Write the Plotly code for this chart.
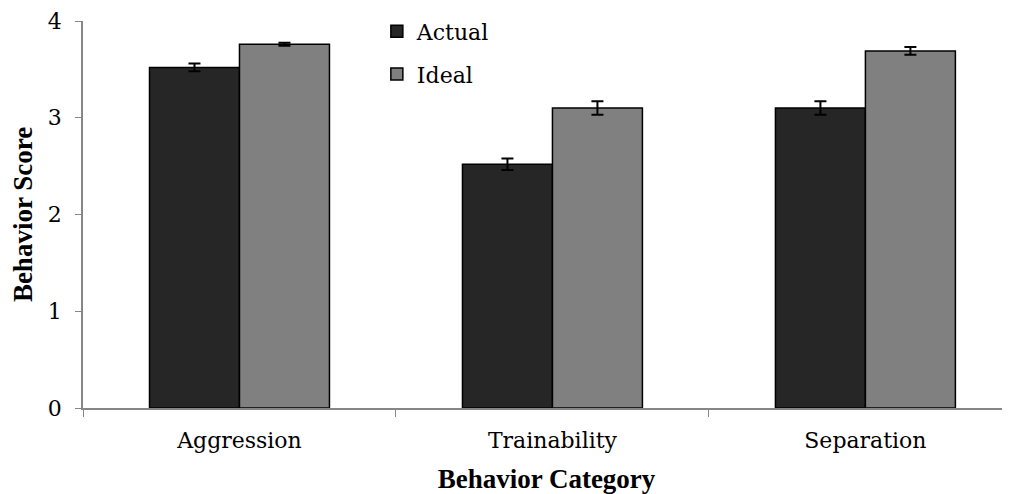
import plotly.graph_objects as go

categories = ["Aggression", "Trainability", "Separation"]
actual = [3.52, 2.52, 3.10]
actual_err = [0.04, 0.06, 0.07]
ideal = [3.76, 3.10, 3.69]
ideal_err = [0.015, 0.07, 0.04]
y_ticks = [0, 1, 2, 3, 4]

tick_font = dict(family="DejaVu Serif", size=22, color="black")
title_font = dict(family="Liberation Serif", size=27, color="black")

fig = go.Figure()
fig.add_trace(go.Bar(
    x=categories, y=actual, name="Actual", legendgroup="a",
    marker=dict(color="#262626", line=dict(color="black", width=1.5)),
    error_y=dict(type="data", array=actual_err, visible=True, color="black", thickness=2, width=6),
))
fig.add_trace(go.Bar(
    x=categories, y=ideal, name="Ideal", legendgroup="b",
    marker=dict(color="#808080", line=dict(color="black", width=1.5)),
    error_y=dict(type="data", array=ideal_err, visible=True, color="black", thickness=2, width=6),
))

fig.update_layout(
    width=1002, height=486,
    margin=dict(l=75, r=0, t=13, b=86),
    paper_bgcolor="white", plot_bgcolor="white",
    barmode="group", bargap=0.425, bargroupgap=0,
    legend=dict(x=0.317, y=1.027, xanchor="left", yanchor="top",
                font=tick_font, tracegroupgap=11, bgcolor="rgba(0,0,0,0)"),
    xaxis=dict(
        range=[-0.5, 2.462], showline=True, linecolor="#868686", linewidth=1.5,
        ticks="outside", tickson="boundaries", ticklen=7, tickcolor="#868686",
        tickfont=tick_font, showgrid=False, automargin=False, ticklabelstandoff=12,
        title=dict(text="<b>Behavior Category</b>", font=title_font, standoff=18),
    ),
    yaxis=dict(
        range=[0, 4], tickvals=y_ticks, showline=True, linecolor="#868686", linewidth=1.5,
        ticks="outside", ticklen=6, tickcolor="#868686", tickfont=tick_font,
        showgrid=False, zeroline=False, automargin=False, ticklabelstandoff=9,
        title=dict(text="<b>Behavior Score</b>", font=title_font, standoff=9),
    ),
)

fig.write_html("out.html")
